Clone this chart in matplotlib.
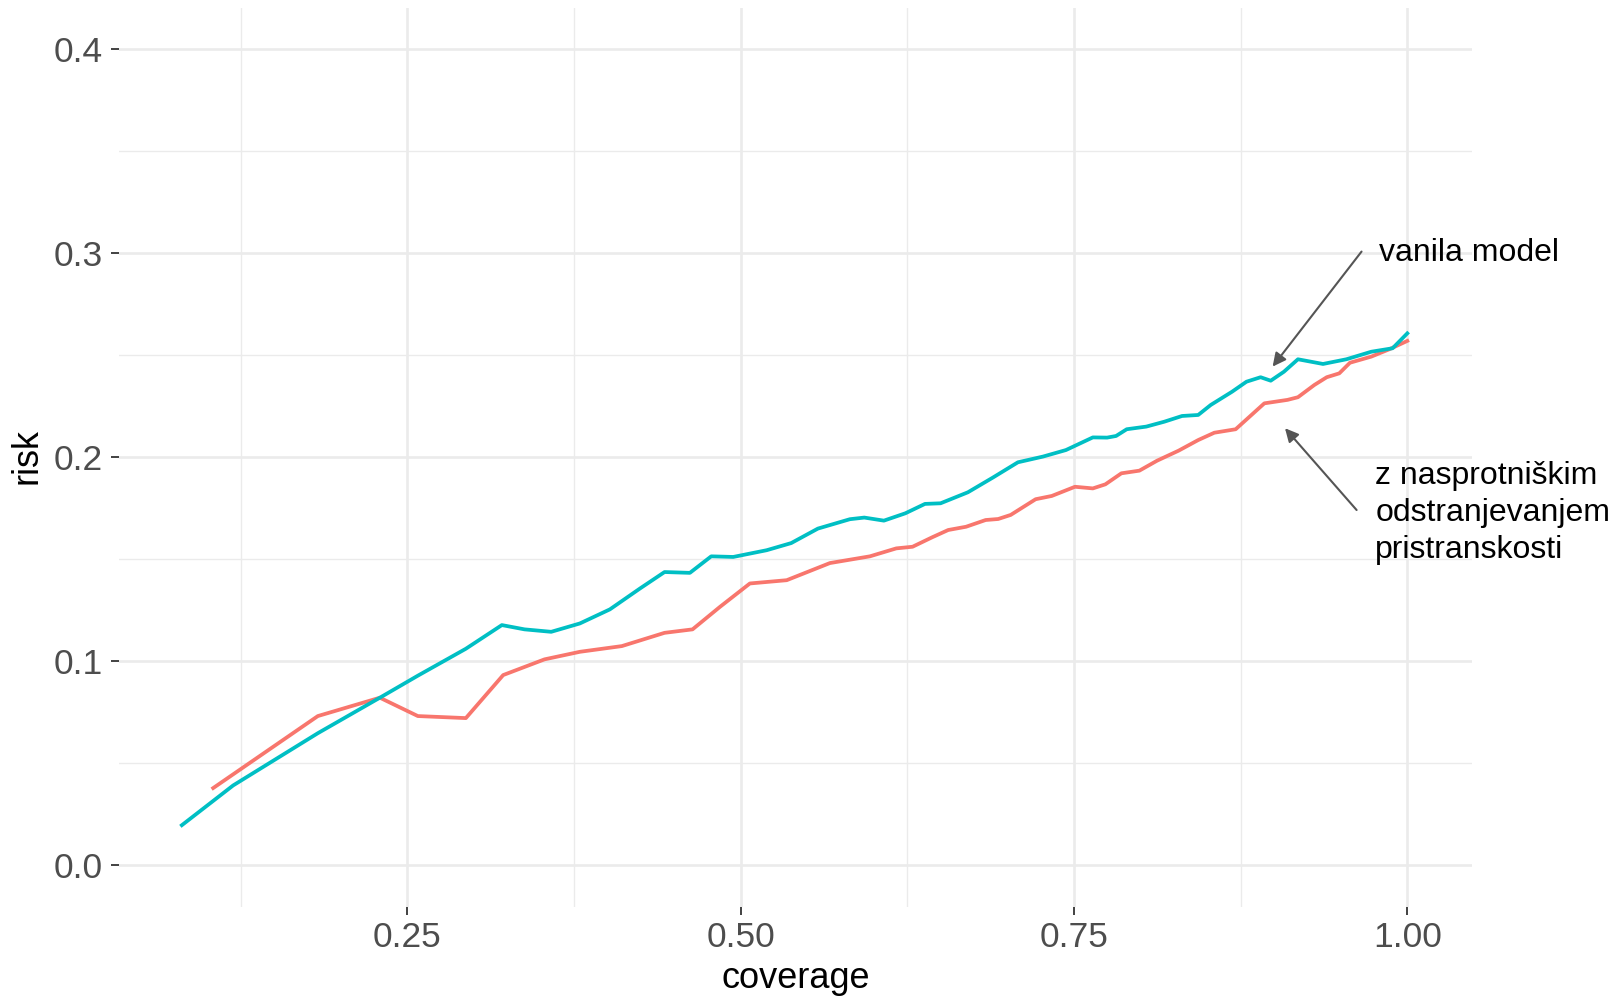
import matplotlib
matplotlib.use("Agg")
import matplotlib.pyplot as plt
from matplotlib.ticker import FixedLocator

plt.rcParams['font.family'] = ['Liberation Sans', 'DejaVu Sans']

# vanila model (cyan)
cov_vanila = [0.081, 0.1195, 0.183, 0.2295, 0.258, 0.294, 0.321, 0.338, 0.358,
              0.3795, 0.402, 0.4245, 0.443, 0.462, 0.478, 0.4945, 0.5196, 0.538,
              0.558, 0.582, 0.5928, 0.6075, 0.6236, 0.6383, 0.650, 0.6705, 0.6892,
              0.708, 0.7268, 0.744, 0.7642, 0.7749, 0.7816, 0.7896, 0.8043, 0.8178,
              0.8311, 0.8432, 0.8526, 0.8686, 0.8794, 0.890, 0.8976, 0.9075, 0.918,
              0.9368, 0.9543, 0.973, 0.989, 1.000]
risk_vanila = [0.0195, 0.039, 0.0646, 0.082, 0.0928, 0.106, 0.1176, 0.1155, 0.1143,
               0.1184, 0.1253, 0.1355, 0.1436, 0.1432, 0.1513, 0.151, 0.1543, 0.1578,
               0.1649, 0.1695, 0.1703, 0.1688, 0.1724, 0.177, 0.1773, 0.1827, 0.1899,
               0.1974, 0.2002, 0.2034, 0.2096, 0.2095, 0.2103, 0.2136, 0.2149, 0.2173,
               0.2201, 0.2206, 0.2255, 0.232, 0.2369, 0.2391, 0.2374, 0.2418, 0.2479,
               0.2456, 0.2479, 0.2516, 0.2533, 0.2606]

# z nasprotniskim odstranjevanjem pristranskosti (red)
cov_adv = [0.1045, 0.183, 0.2295, 0.258, 0.294, 0.322, 0.353, 0.3795, 0.411, 0.443,
           0.464, 0.4845, 0.507, 0.5346, 0.567, 0.597, 0.6168, 0.629, 0.6436, 0.6557,
           0.6691, 0.6838, 0.6932, 0.7026, 0.7213, 0.7334, 0.7508, 0.7642, 0.7736,
           0.7856, 0.7991, 0.8124, 0.8285, 0.8432, 0.8553, 0.8713, 0.8928, 0.9102,
           0.918, 0.9303, 0.9396, 0.949, 0.957, 0.973, 0.9865, 1.0]
risk_adv = [0.0377, 0.073, 0.082, 0.073, 0.072, 0.0931, 0.1008, 0.1045, 0.1073, 0.1138,
            0.1155, 0.1265, 0.138, 0.1396, 0.148, 0.1513, 0.1552, 0.156, 0.1606, 0.1642,
            0.1658, 0.1691, 0.1696, 0.1716, 0.1793, 0.1809, 0.1854, 0.1846, 0.1866,
            0.192, 0.1933, 0.1982, 0.2031, 0.2083, 0.2119, 0.2136, 0.2263, 0.228,
            0.2293, 0.2353, 0.2391, 0.241, 0.2462, 0.2492, 0.2528, 0.2569]

x_ticks = [0.25, 0.50, 0.75, 1.00]
x_labels = ["0.25", "0.50", "0.75", "1.00"]
y_ticks = [0.0, 0.1, 0.2, 0.3, 0.4]
y_labels = ["0.0", "0.1", "0.2", "0.3", "0.4"]
x_minor = [0.125, 0.375, 0.625, 0.875]
y_minor = [0.05, 0.15, 0.25, 0.35]

fig = plt.figure(figsize=(16.16, 10), dpi=100)
ax = fig.add_axes([0.0739, 0.093, 0.8368, 0.8988])

ax.plot(cov_adv, risk_adv, color="#F8766D", lw=2.7, zorder=3)
ax.plot(cov_vanila, risk_vanila, color="#00BFC4", lw=2.7, zorder=3)

ax.set_xlim(0.0342, 1.0483)
ax.set_ylim(-0.0206, 0.42)

ax.set_xticks(x_ticks)
ax.set_xticklabels(x_labels)
ax.set_yticks(y_ticks)
ax.set_yticklabels(y_labels)
ax.xaxis.set_minor_locator(FixedLocator(x_minor))
ax.yaxis.set_minor_locator(FixedLocator(y_minor))

ax.grid(which="major", color="#EBEBEB", lw=1.9)
ax.grid(which="minor", color="#EBEBEB", lw=1.0)
ax.set_axisbelow(True)
for s in ax.spines.values():
    s.set_visible(False)

ax.tick_params(which="major", length=6, width=1.3, color="#333333",
               labelsize=25.5, labelcolor="#4D4D4D")
ax.tick_params(axis="x", pad=4)
ax.tick_params(axis="y", pad=6)
ax.tick_params(which="minor", length=0)

fig.text(796 / 1616, 0.012, "coverage", fontsize=26, ha="center", va="baseline")
fig.text(27 / 1616, 1 - 456 / 1000, "risk", fontsize=26, rotation=90,
         ha="center", va="center")

arrow = dict(arrowstyle="-|>", color="#555555", lw=1.5, mutation_scale=20,
             shrinkA=0, shrinkB=0)
ax.annotate("", xy=(0.899, 0.2443), xytext=(0.9657, 0.3007), arrowprops=arrow)
ax.annotate("", xy=(0.9083, 0.2141), xytext=(0.962, 0.174), arrowprops=arrow)

ax.text(0.979, 0.296, "vanila model", fontsize=23, ha="left", va="baseline",
        clip_on=False)
ax.text(0.976, 0.1725, "z nasprotniškim\nodstranjevanjem\npristranskosti",
        fontsize=23, ha="left", va="center", linespacing=1.3, clip_on=False)

fig.savefig("out.png", dpi=100, facecolor="white")
